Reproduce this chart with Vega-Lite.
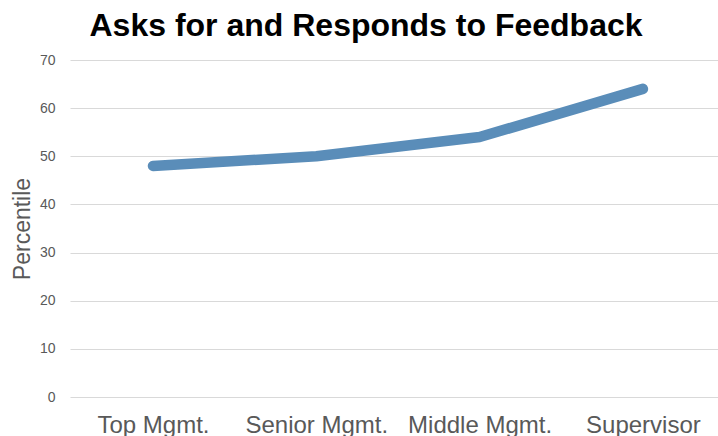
{
  "$schema": "https://vega.github.io/schema/vega-lite/v6.json",
  "autosize": {"type": "none"},
  "padding": {"left": 70, "top": 60, "right": 0, "bottom": 39},
  "width": 648,
  "height": 337,
  "background": "#ffffff",
  "config": {"view": {"stroke": null}},
  "title": {
    "text": "Asks for and Responds to Feedback",
    "font": "Liberation Sans",
    "fontSize": 32,
    "fontWeight": "bold",
    "color": "#000000",
    "anchor": "middle",
    "baseline": "alphabetic",
    "offset": -15,
    "dx": -28
  },
  "data": {
    "values": [
      {"level": "Top Mgmt.", "percentile": 48},
      {"level": "Senior Mgmt.", "percentile": 50},
      {"level": "Middle Mgmt.", "percentile": 54},
      {"level": "Supervisor", "percentile": 64}
    ]
  },
  "mark": {
    "type": "line",
    "color": "#5a8db9",
    "strokeWidth": 10.5,
    "strokeCap": "round",
    "strokeJoin": "round"
  },
  "encoding": {
    "x": {
      "field": "level",
      "type": "nominal",
      "sort": null,
      "scale": {"type": "point", "padding": 0.484, "align": 0.525},
      "axis": {
        "title": null,
        "labelAngle": 0,
        "domain": false,
        "ticks": false,
        "grid": false,
        "labelFont": "Liberation Sans",
        "labelFontSize": 24,
        "labelColor": "#595959",
        "labelPadding": 16
      }
    },
    "y": {
      "field": "percentile",
      "type": "quantitative",
      "scale": {"domain": [0, 70], "nice": false},
      "axis": {
        "title": "Percentile",
        "values": [0, 10, 20, 30, 40, 50, 60, 70],
        "domain": false,
        "ticks": false,
        "grid": true,
        "gridColor": "#d9d9d9",
        "gridWidth": 1,
        "labelFont": "Liberation Sans",
        "labelFontSize": 14,
        "labelColor": "#595959",
        "labelPadding": 15,
        "titleFont": "Liberation Sans",
        "titleFontSize": 23,
        "titleFontWeight": "normal",
        "titleColor": "#595959",
        "titlePadding": 5
      }
    }
  }
}
